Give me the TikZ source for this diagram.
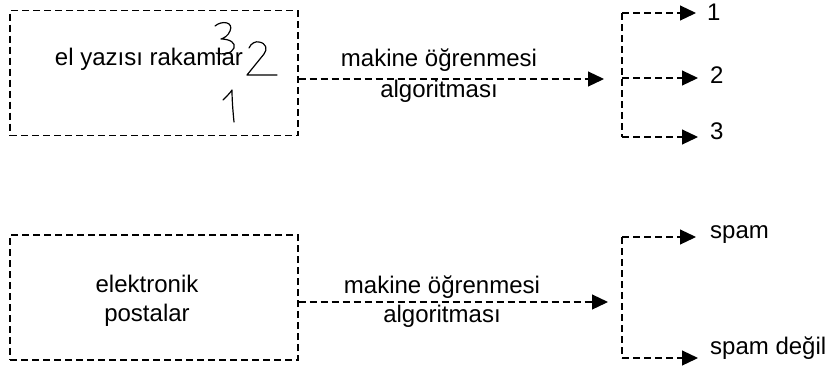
\documentclass[tikz,border=0pt]{standalone}
\usepackage{fontspec}
\setmainfont{Liberation Sans}
\usetikzlibrary{arrows.meta}
\begin{document}
\begin{tikzpicture}[x=1pt,y=-1pt,
  dline/.style={line width=1.2pt,dash pattern=on 7pt off 4pt},
  conn/.style={dline,-{Triangle[length=16pt,width=15pt]}},
  panel/.style={dline,draw,minimum width=288pt,minimum height=125pt,inner sep=0pt},
  lbl/.style={font=\fontsize{24}{29}\selectfont,align=center,inner sep=0pt},
  pen/.style={line width=1.2pt,line cap=round,line join=round}]
\useasboundingbox (0,0) rectangle (830,373);

% handwritten digits panel
\node[panel] (box1) at (154,73) {};
\node[lbl] (txt1) at (149,59) {el yazısı rakamlar};
\draw[pen] (215,26) .. controls (222,20) and (234,22) .. (230,31)
  .. controls (228,36) and (224,38) .. (221,39)
  .. controls (230,39) and (236,43) .. (234,48)
  .. controls (232,54) and (222,55) .. (216,53);
\draw[pen] (249,48) .. controls (251,43) and (256,41) .. (259,42)
  .. controls (266,43) and (268,49) .. (264,54)
  -- (247,75) -- (277,75);
\draw[pen] (223,100) .. controls (227,96) and (230,93) .. (232,90)
  .. controls (232,100) and (233,112) .. (234,122);

% e-mail panel
\node[panel] (box2) at (154,297.5) {};
\node[lbl] (txt2) at (147,301) {elektronik\\postalar};

% learning algorithm arrows
\coordinate (a1) at (604,79);
\coordinate (a2) at (608,302);
\draw[conn] (box1.east |- a1) -- (a1);
\draw[conn] (box2.east |- a2) -- (a2);
\node[lbl,font=\fontsize{24}{31}\selectfont] (alg1) at (439,76) {makine öğrenmesi\\algoritması};
\node[lbl,font=\fontsize{24}{29}\selectfont] (alg2) at (442,302) {makine öğrenmesi\\algoritması};

% digit classes
\coordinate (v1a) at (622,13);
\coordinate (v1b) at (622,78);
\coordinate (v1c) at (622,137);
\coordinate (t1a) at (696,13);
\coordinate (t1b) at (698,78);
\coordinate (t1c) at (698,137);
\draw[dline] (v1a) -- (v1c);
\draw[conn] (v1a) -- (t1a);
\draw[conn] (v1b) -- (t1b);
\draw[conn] (v1c) -- (t1c);
\node[lbl,anchor=west] (c1) at (707,12) {1};
\node[lbl,anchor=west] (c2) at (710,75) {2};
\node[lbl,anchor=west] (c3) at (710,131) {3};

% mail classes
\coordinate (v2a) at (622,237);
\coordinate (v2b) at (622,358);
\coordinate (t2a) at (696,237);
\coordinate (t2b) at (698,358);
\draw[dline] (v2a) -- (v2b);
\draw[conn] (v2a) -- (t2a);
\draw[conn] (v2b) -- (t2b);
\node[lbl,anchor=west] (s1) at (710,235) {spam};
\node[lbl,anchor=west] (s2) at (710,348) {spam değil};
\end{tikzpicture}
\end{document}
